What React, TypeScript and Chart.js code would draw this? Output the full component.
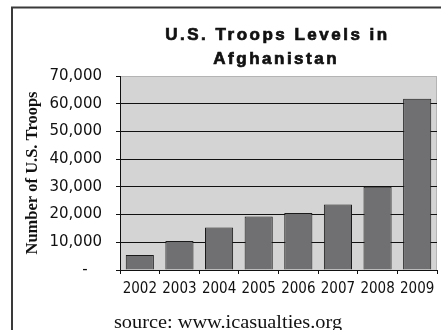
import React, { useEffect, useRef } from "react";
import { Chart, registerables } from "chart.js";

Chart.register(...registerables);

const years = ["2002", "2003", "2004", "2005", "2006", "2007", "2008", "2009"];
const troops = [5400, 10500, 15300, 19300, 20600, 23600, 30000, 61800];
const titleLines = ["U.S. Troops Levels in", "Afghanistan"];
const yAxisTitle = "Number of U.S. Troops";
const sourceText = "source: www.icasualties.org";

const decorPlugin = {
  id: "decor",
  beforeDraw(chart: any) {
    const { ctx, chartArea } = chart;
    ctx.save();
    ctx.fillStyle = "#ffffff";
    ctx.fillRect(0, 0, chart.width, chart.height);
    ctx.fillStyle = "#d4d4d4";
    ctx.fillRect(chartArea.left, chartArea.top, chartArea.right - chartArea.left, chartArea.bottom - chartArea.top);
    ctx.strokeStyle = "#b4b4b4";
    ctx.lineWidth = 1;
    ctx.beginPath();
    ctx.moveTo(chartArea.right - 0.5, chartArea.top);
    ctx.lineTo(chartArea.right - 0.5, chartArea.bottom);
    ctx.stroke();
    ctx.restore();
  },
  afterDraw(chart: any) {
    const { ctx } = chart;
    ctx.save();
    // outer frame
    ctx.strokeStyle = "#3a3a3a";
    ctx.lineWidth = 2;
    ctx.beginPath();
    ctx.moveTo(12, 400);
    ctx.lineTo(12, 7.5);
    ctx.lineTo(500, 7.5);
    ctx.stroke();
    // title
    ctx.fillStyle = "#111";
    ctx.strokeStyle = "#111";
    ctx.lineWidth = 0.7;
    ctx.textAlign = "center";
    ctx.textBaseline = "alphabetic";
    ctx.font = "bold 17px 'Liberation Sans', Arial, sans-serif";
    (ctx as any).letterSpacing = "2.5px";
    ctx.fillText(titleLines[0], 277.5, 40);
    ctx.strokeText(titleLines[0], 277.5, 40);
    ctx.fillText(titleLines[1], 276.2, 64);
    ctx.strokeText(titleLines[1], 276.2, 64);
    (ctx as any).letterSpacing = "0px";
    // source
    ctx.font = "18px 'Liberation Serif', 'Times New Roman', serif";
    ctx.translate(228, 328);
    ctx.scale(1.13, 1);
    ctx.fillText(sourceText, 0, 0);
    ctx.restore();
  },
};

export default function App() {
  const ref = useRef<HTMLCanvasElement>(null);
  useEffect(() => {
    const canvas = ref.current;
    if (!canvas) return;
    const chart = new Chart(canvas, {
      type: "bar",
      data: {
        labels: years,
        datasets: [
          {
            data: troops,
            backgroundColor: "#707072",
            borderColor: "#1a1a1a",
            borderWidth: 1,
            categoryPercentage: 1,
            barPercentage: 0.71,
          },
        ],
      },
      options: {
        animation: false,
        responsive: false,
        devicePixelRatio: 1,
        layout: { padding: { left: 23, right: 4, top: 76, bottom: 0 } },
        plugins: {
          legend: { display: false },
          tooltip: { enabled: false },
          title: { display: false },
        },
        scales: {
          x: {
            offset: true,
            grid: {
              offset: true,
              drawOnChartArea: false,
              drawTicks: true,
              tickLength: 4,
              color: "#111",
            },
            border: { display: true, color: "#111", width: 1 },
            ticks: {
              color: "#111",
              padding: 6,
              maxRotation: 0,
              minRotation: 0,
              autoSkip: false,
              font: { family: "'DejaVu Sans Condensed', 'DejaVu Sans', sans-serif", size: 15 },
            },
            afterFit(scale: any) {
              scale.height = 60;
            },
          },
          y: {
            min: 0,
            max: 70000,
            ticks: {
              stepSize: 10000,
              color: "#111",
              padding: 14,
              font: { family: "'DejaVu Sans', sans-serif", size: 15 },
              callback: (v: any) => (Number(v) === 0 ? "-   " : Number(v).toLocaleString("en-US")),
            },
            grid: {
              color: (c: any) => (c.tick && c.tick.value === 70000 ? "#b4b4b4" : "#111"),
              tickColor: "#111",
              tickLength: 4,
              lineWidth: 1,
            },
            border: { display: true, color: "#111", width: 1 },
            title: {
              display: true,
              text: yAxisTitle,
              color: "#111",
              padding: 0,
              font: { family: "'Liberation Serif', 'Times New Roman', serif", size: 16.5, weight: "bold" },
            },
            afterFit(scale: any) {
              scale.width = 97;
            },
          },
        },
      },
      plugins: [decorPlugin],
    });
    return () => chart.destroy();
  }, []);
  return (
    <div style={{ position: "fixed", left: 0, top: 0, width: 441, height: 330, overflow: "hidden", background: "#fff" }}>
      <canvas ref={ref} width={441} height={330} style={{ width: 441, height: 330, display: "block" }} />
    </div>
  );
}
